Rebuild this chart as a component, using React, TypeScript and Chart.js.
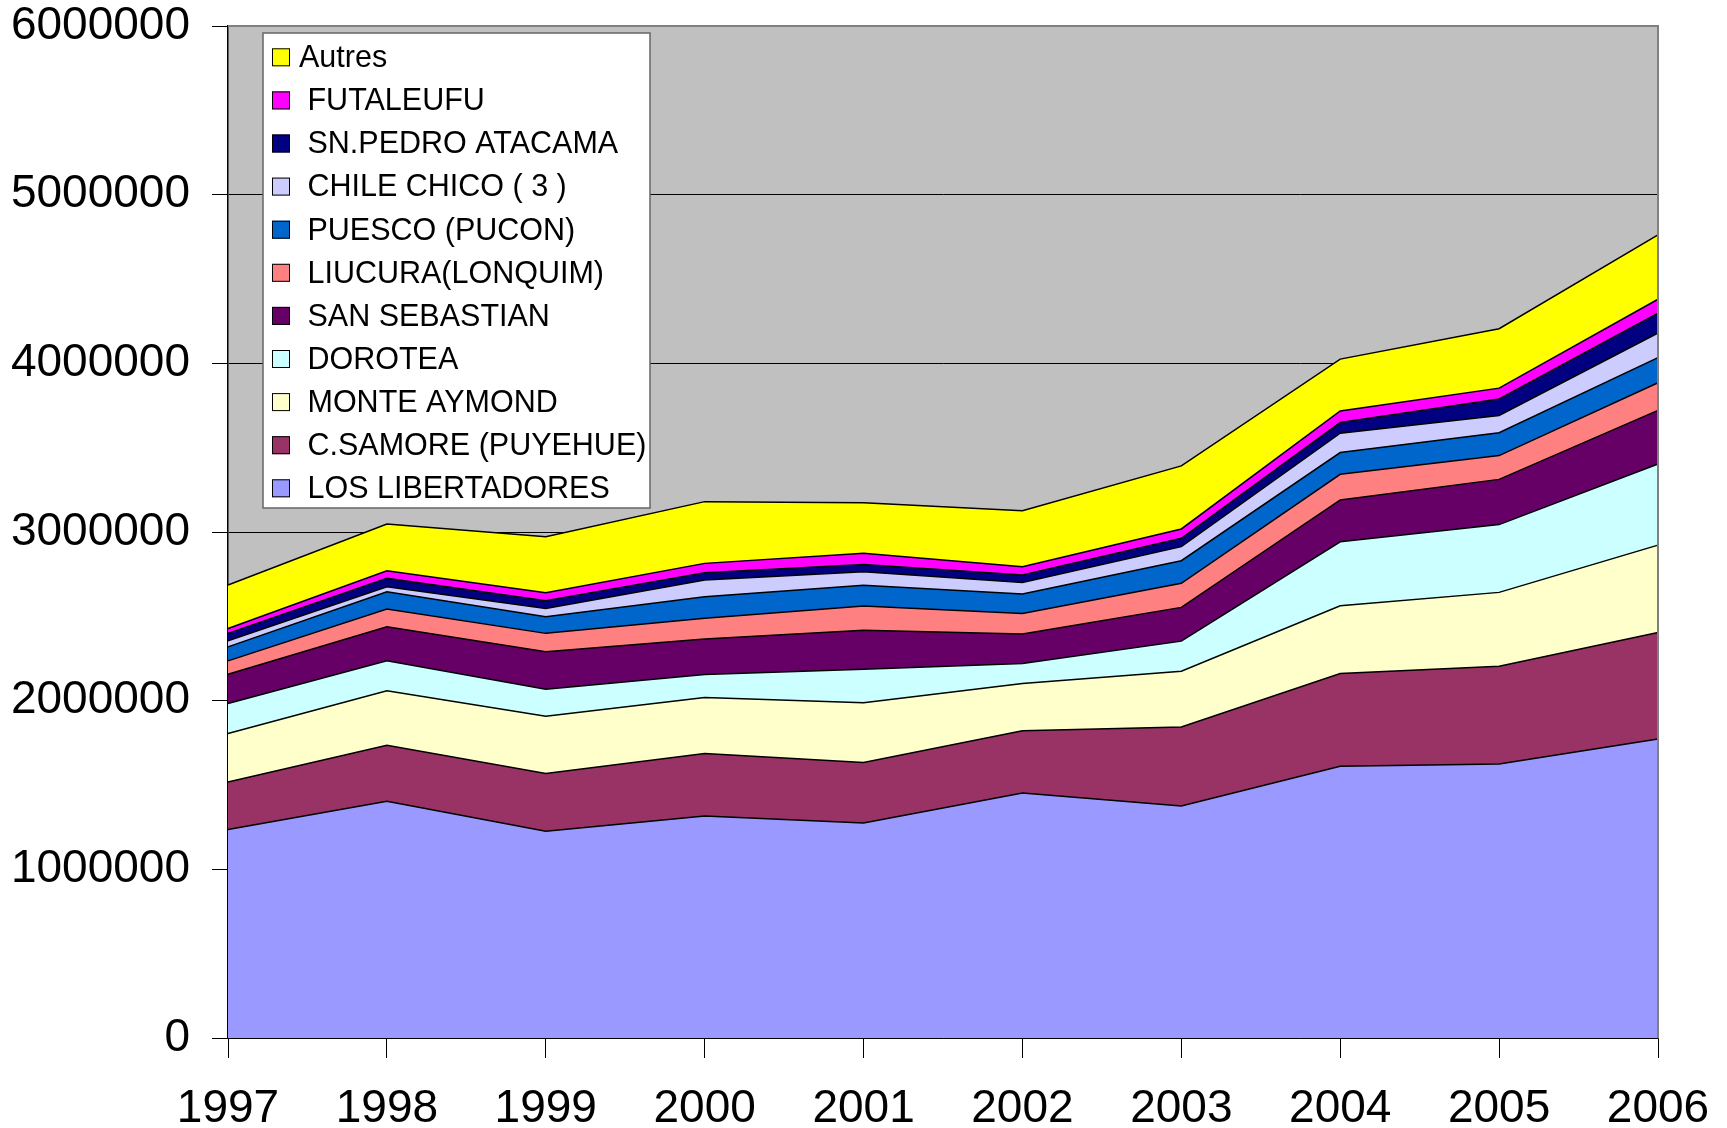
import { useEffect, useRef } from 'react';
import { Chart, registerables } from 'chart.js';

Chart.register(...registerables);

const years = ['1997', '1998', '1999', '2000', '2001', '2002', '2003', '2004', '2005', '2006'];

const losLibertadores = [1236000, 1404000, 1226000, 1316000, 1275000, 1453000, 1376000, 1611000, 1625000, 1773000];
const cSamore = [282000, 332000, 342000, 371000, 358000, 368000, 468000, 550000, 579000, 631000];
const monteAymond = [287000, 322000, 340000, 332000, 354000, 281000, 331000, 402000, 438000, 518000];
const dorotea = [178000, 178000, 160000, 136000, 200000, 119000, 178000, 379000, 402000, 481000];
const sanSebastian = [174000, 202000, 222000, 210000, 231000, 174000, 200000, 248000, 268000, 318000];
const liucura = [79000, 105000, 109000, 123000, 143000, 122000, 143000, 152000, 141000, 164000];
const puesco = [83000, 103000, 98000, 128000, 124000, 115000, 134000, 129000, 136000, 149000];
const chileChico = [36000, 29000, 50000, 99000, 79000, 69000, 83000, 115000, 102000, 146000];
const snPedro = [44000, 50000, 45000, 43000, 44000, 44000, 50000, 63000, 98000, 118000];
const futaleufu = [29000, 45000, 48000, 56000, 66000, 49000, 55000, 69000, 64000, 82000];
const autres = [258000, 277000, 332000, 366000, 300000, 332000, 374000, 307000, 352000, 381000];

const seriesLabels = [
  ' LOS LIBERTADORES',
  ' C.SAMORE (PUYEHUE)',
  ' MONTE AYMOND',
  ' DOROTEA',
  ' SAN SEBASTIAN',
  ' LIUCURA(LONQUIM)',
  ' PUESCO (PUCON)',
  ' CHILE CHICO ( 3 )',
  ' SN.PEDRO ATACAMA',
  ' FUTALEUFU',
  'Autres',
];
const seriesValues = [
  losLibertadores, cSamore, monteAymond, dorotea, sanSebastian,
  liucura, puesco, chileChico, snPedro, futaleufu, autres,
];
const seriesColors = [
  '#9999FF', '#993366', '#FFFFCC', '#CCFFFF', '#660066',
  '#FF8080', '#0066CC', '#CCCCFF', '#000080', '#FF00FF', '#FFFF00',
];

const yTicks = [0, 1000000, 2000000, 3000000, 4000000, 5000000, 6000000];

const FONT = '"Liberation Sans", Arial, Helvetica, sans-serif';

const plotFrame = {
  id: 'plotFrame',
  beforeDraw(chart: any) {
    const { ctx, chartArea: a } = chart;
    ctx.save();
    ctx.fillStyle = '#C0C0C0';
    ctx.fillRect(a.left, a.top, a.right - a.left, a.bottom - a.top);
    ctx.restore();
  },
  afterDatasetsDraw(chart: any) {
    const { ctx, chartArea: a } = chart;
    ctx.save();
    ctx.strokeStyle = '#808080';
    ctx.lineWidth = 2;
    ctx.beginPath();
    ctx.moveTo(a.left, a.top);
    ctx.lineTo(a.right, a.top);
    ctx.lineTo(a.right, a.bottom);
    ctx.stroke();
    ctx.restore();
  },
};

const legendBox = {
  id: 'legendBox',
  afterDraw(chart: any) {
    const ctx = chart.ctx;
    const items = chart.data.datasets.slice().reverse();
    const bx = 263, by = 33, bw = 387, bh = 475;
    ctx.save();
    ctx.fillStyle = '#FFFFFF';
    ctx.fillRect(bx, by, bw, bh);
    ctx.strokeStyle = '#666666';
    ctx.lineWidth = 1.5;
    ctx.strokeRect(bx, by, bw, bh);
    ctx.font = '30.5px ' + FONT;
    ctx.textAlign = 'left';
    ctx.textBaseline = 'alphabetic';
    items.forEach((ds: any, i: number) => {
      const cy = 57.3 + i * 43.1;
      ctx.fillStyle = ds.backgroundColor;
      ctx.fillRect(272, cy - 9, 18, 18);
      ctx.strokeStyle = '#000';
      ctx.lineWidth = 1;
      ctx.strokeRect(272.5, cy - 8.5, 17, 17);
      ctx.fillStyle = '#000';
      ctx.fillText(ds.label, 299, cy + 9.8);
    });
    ctx.restore();
  },
};

export default function App() {
  const ref = useRef<HTMLCanvasElement | null>(null);

  useEffect(() => {
    if (!ref.current) return;
    const datasets = seriesValues.map((vals, i) => ({
      label: seriesLabels[i],
      data: vals,
      backgroundColor: seriesColors[i],
      borderColor: '#000000',
      borderWidth: 1.5,
      pointRadius: 0,
      tension: 0,
      fill: i === 0 ? 'origin' : '-1',
    }));
    const chart = new Chart(ref.current, {
      type: 'line',
      data: { labels: years, datasets },
      options: {
        animation: false,
        responsive: false,
        devicePixelRatio: 1,
        layout: { padding: { top: 26, right: 69, bottom: 0, left: 0 } },
        plugins: { legend: { display: false }, tooltip: { enabled: false } },
        scales: {
          x: {
            type: 'category',
            offset: false,
            grid: { drawOnChartArea: false, drawTicks: true, tickLength: 20, tickColor: '#000', tickWidth: 1 },
            border: { display: true, color: '#000', width: 1.5 },
            ticks: { color: '#000', font: { family: FONT, size: 46, lineHeight: 1 }, padding: 28, maxRotation: 0, autoSkip: false },
            afterFit: (s: any) => {
              s.height = 90;
              s.paddingLeft = 0;
              s.paddingRight = 0;
              s.paddingTop = 0;
              s.paddingBottom = 0;
            },
          },
          y: {
            stacked: true,
            min: 0,
            max: 6000000,
            afterBuildTicks: (s: any) => { s.ticks = yTicks.map((v) => ({ value: v })); },
            grid: { color: '#000', lineWidth: 1, tickLength: 16, tickColor: '#000' },
            border: { display: true, color: '#000', width: 1.5 },
            ticks: {
              color: '#000',
              font: { family: FONT, size: 46, lineHeight: 1 },
              padding: 22,
              callback: (v: any) => String(v),
            },
            afterFit: (s: any) => {
              s.width = 228;
              s.paddingLeft = 0;
              s.paddingRight = 0;
              s.paddingTop = 0;
              s.paddingBottom = 0;
            },
          },
        },
      },
      plugins: [plotFrame, legendBox],
    } as any);
    return () => chart.destroy();
  }, []);

  return (
    <div style={{ position: 'fixed', left: 0, top: 0, width: 1727, height: 1128, background: '#fff' }}>
      <canvas ref={ref} width={1727} height={1128} style={{ display: 'block' }} />
    </div>
  );
}
